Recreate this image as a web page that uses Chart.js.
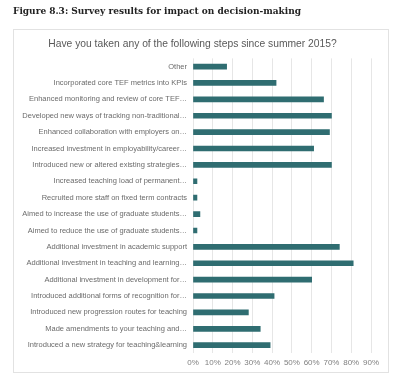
<!DOCTYPE html>
<html>
<head>
<meta charset="utf-8">
<script src="https://cdn.jsdelivr.net/npm/chart.js@4.4.1/dist/chart.umd.min.js"></script>
<style>
  html, body { margin: 0; padding: 0; background: #ffffff; }
  #wrap { position: relative; width: 400px; height: 380px; overflow: hidden; }
  #fig { position: absolute; left: 13px; top: 5px; font-family: "DejaVu Serif", serif; font-stretch: condensed; font-weight: bold; font-size: 10px; color: #222; white-space: nowrap; z-index: 2; }
  #box { position: absolute; left: 13px; top: 29px; width: 374px; height: 342px; border: 1px solid #e2e2e2; }
  #c { position: absolute; left: 0; top: 0; }
</style>
</head>
<body>
<div id="wrap">
  <div id="fig">Figure 8.3: Survey results for impact on decision-making</div>
  <div id="box"></div>
  <canvas id="c" width="400" height="380"></canvas>
</div>
<script>
const chartTitle = "Have you taken any of the following steps since summer 2015?";
const categories = [
  "Other",
  "Incorporated core TEF metrics into KPIs",
  "Enhanced monitoring and review of core TEF…",
  "Developed new ways of tracking non-traditional…",
  "Enhanced collaboration with employers on…",
  "Increased investment in employability/career…",
  "Introduced new or altered existing strategies…",
  "Increased teaching load of permanent…",
  "Recruited more staff on fixed term contracts",
  "Aimed to increase the use of graduate students…",
  "Aimed to reduce the use of graduate students…",
  "Additional investment in academic support",
  "Additional investment in teaching and learning…",
  "Additional investment in development for…",
  "Introduced additional forms of recognition for…",
  "Introduced new progression routes for teaching",
  "Made amendments to your teaching and…",
  "Introduced a new strategy for teaching&learning"
];
const values = [0.17, 0.42, 0.66, 0.70, 0.69, 0.61, 0.70, 0.02, 0.02, 0.035, 0.02, 0.74, 0.81, 0.60, 0.41, 0.28, 0.34, 0.39];
const xTickLabels = ["0%", "10%", "20%", "30%", "40%", "50%", "60%", "70%", "80%", "90%"];

new Chart(document.getElementById('c'), {
  type: 'bar',
  data: {
    labels: categories,
    datasets: [{
      data: values,
      backgroundColor: '#2f6d71',
      barThickness: 5
    }]
  },
  options: {
    indexAxis: 'y',
    responsive: false,
    animation: false,
    devicePixelRatio: 1,
    layout: { padding: { top: 31, left: 14, right: 29, bottom: 7 } },
    plugins: {
      legend: { display: false },
      tooltip: { enabled: false },
      title: {
        display: true,
        text: chartTitle,
        color: '#595959',
        font: { family: 'Liberation Sans', size: 10.3, weight: 'normal' },
        padding: { top: 7, bottom: 8 }
      }
    },
    scales: {
      x: {
        min: 0, max: 0.9,
        ticks: {
          stepSize: 0.1,
          color: '#808080',
          font: { family: 'Liberation Sans', size: 8 },
          padding: 5,
          maxRotation: 0,
          minRotation: 0,
          autoSkip: false,
          callback: (v, i) => xTickLabels[i]
        },
        grid: { color: '#e6e6e6', drawTicks: false },
        border: { display: false }
      },
      y: {
        ticks: {
          color: '#6b6b6b',
          font: { family: 'Liberation Sans', size: 7.5 },
          padding: 6,
          autoSkip: false
        },
        grid: { display: false, drawTicks: false },
        border: { display: false },
        afterFit: (s) => { s.width = 179; }
      }
    }
  }
});
</script>
</body>
</html>
